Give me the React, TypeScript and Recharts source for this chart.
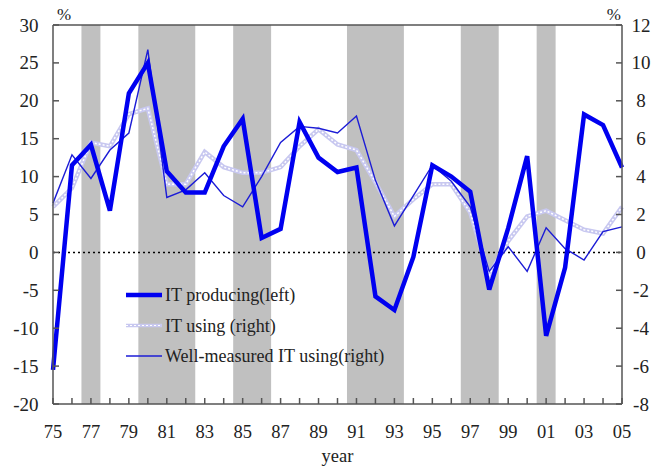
import React from 'react';
import { LineChart, Line, XAxis, YAxis, ReferenceArea, ReferenceLine, Legend } from 'recharts';

const years = [
  1975, 1976, 1977, 1978, 1979, 1980, 1981, 1982, 1983, 1984, 1985, 1986, 1987, 1988, 1989, 1990,
  1991, 1992, 1993, 1994, 1995, 1996, 1997, 1998, 1999, 2000, 2001, 2002, 2003, 2004, 2005,
];

// left axis (%)
const itProducing = [
  -15.5, 11.5, 14.2, 5.5, 21, 25, 10.7, 7.9, 7.9, 14, 17.6, 1.9, 3.1, 17.2, 12.5, 10.6,
  11.2, -5.8, -7.6, -0.6, 11.5, 10, 8, -4.9, 3.2, 12.7, -11, -2, 18.2, 16.8, 11.2,
];

// right axis (%)
const itUsing = [
  2.4, 3.4, 5.8, 5.6, 7.3, 7.6, 3.6, 3.6, 5.3, 4.5, 4.2, 4.2, 4.5, 5.6, 6.5, 5.7,
  5.4, 3.7, 1.9, 2.8, 3.6, 3.6, 2.1, -1.2, 0.6, 1.9, 2.2, 1.7, 1.2, 1.0, 2.4,
];

// right axis (%)
const wellMeasured = [
  2.6, 5.15, 3.9, 5.4, 6.3, 10.7, 2.9, 3.3, 4.2, 3.0, 2.4, 4.0, 5.8, 6.65, 6.55, 6.3,
  7.2, 3.8, 1.4, 3.0, 4.6, 3.75, 2.4, -1.0, 0.3, -1.0, 1.3, 0.2, -0.4, 1.1, 1.35,
];

const shadedPeriods: [number, number][] = [
  [1976.5, 1977.5],
  [1979.5, 1982.5],
  [1984.5, 1986.5],
  [1990.5, 1993.5],
  [1996.5, 1998.5],
  [2000.5, 2001.5],
];

const leftTicks = [-20, -15, -10, -5, 0, 5, 10, 15, 20, 25, 30];
const rightTicks = [-8, -6, -4, -2, 0, 2, 4, 6, 8, 10, 12];
const legendLabels = ['IT producing(left)', 'IT using (right)', 'Well-measured IT using(right)'];

const data = years.map((year, i) => ({
  year,
  producing: itProducing[i],
  using: itUsing[i],
  wellMeasured: wellMeasured[i],
}));

const FONT = '"Liberation Serif", "Times New Roman", serif';
const AXIS = '#555';
const TEXT = '#222';
const USING = '#c8c8f0';

const XTick = ({ x, y, payload }: any) => {
  const yr = payload.value as number;
  return (
    <g>
      <line x1={x} y1={y} x2={x} y2={y - 6} stroke={AXIS} strokeWidth={1.5} />
      {yr % 2 === 1 && (
        <text x={x} y={y + 34} textAnchor="middle" fontSize={18.5} fontFamily={FONT} fill={TEXT}>
          {String(yr).slice(2)}
        </text>
      )}
    </g>
  );
};

const LeftTick = ({ x, y, payload }: any) => (
  <g>
    <line x1={x} y1={y} x2={x + 6} y2={y} stroke={AXIS} strokeWidth={1.5} />
    <text x={x - 14.5} y={y + 6.5} textAnchor="end" fontSize={19} fontFamily={FONT} fill={TEXT}>
      {payload.value}
    </text>
  </g>
);

const RightTick = ({ x, y, payload }: any) => (
  <g>
    <line x1={x} y1={y} x2={x - 6} y2={y} stroke={AXIS} strokeWidth={1.5} />
    <text x={x + 19} y={y + 6.5} textAnchor="middle" fontSize={19} fontFamily={FONT} fill={TEXT}>
      {payload.value}
    </text>
  </g>
);

const LegendBox = () => (
  <svg width={290} height={96}>
    {legendLabels.map((label, i) => {
      const cy = 15 + i * 30.5;
      return (
        <g key={label}>
          {i === 0 && <line x1={6} y1={cy} x2={42} y2={cy} stroke="#0000f0" strokeWidth={4.5} />}
          {i === 1 && (
            <>
              <line x1={6} y1={cy} x2={42} y2={cy} stroke={USING} strokeWidth={3.5} />
              <line x1={6} y1={cy} x2={42} y2={cy} stroke="#fff" strokeWidth={1.2} strokeDasharray="2 2" />
            </>
          )}
          {i === 2 && <line x1={6} y1={cy} x2={42} y2={cy} stroke="#1c1cd6" strokeWidth={1.4} />}
          <text x={45} y={cy + 6} fontSize={18} fontFamily={FONT} fill={TEXT}>
            {label}
          </text>
        </g>
      );
    })}
  </svg>
);

export default function App() {
  return (
    <div style={{ position: 'absolute', left: 0, top: 0, background: '#fff' }}>
      <LineChart width={667} height={468} data={data} margin={{ top: 25, right: 0, bottom: 0, left: 0 }}>
        <XAxis
          dataKey="year"
          type="number"
          domain={[1975, 2005]}
          ticks={years}
          interval={0}
          height={64}
          tickSize={0}
          tickMargin={0}
          tickLine={false}
          tick={<XTick />}
          axisLine={{ stroke: AXIS, strokeWidth: 1.5 }}
          label={{ value: 'year', position: 'insideBottom', offset: 6, fontSize: 18.5, fontFamily: FONT, fill: TEXT }}
        />
        <YAxis
          yAxisId="left"
          domain={[-20, 30]}
          ticks={leftTicks}
          interval={0}
          width={53}
          tickSize={0}
          tickMargin={0}
          tickLine={false}
          tick={<LeftTick />}
          axisLine={{ stroke: AXIS, strokeWidth: 1.5 }}
          label={{
            content: ({ viewBox }: any) => (
              <text x={viewBox.x + viewBox.width + 4} y={viewBox.y - 5} fontSize={17} fontFamily={FONT} fill={TEXT}>
                %
              </text>
            ),
          }}
        />
        <YAxis
          yAxisId="right"
          orientation="right"
          domain={[-8, 12]}
          ticks={rightTicks}
          interval={0}
          width={45}
          tickSize={0}
          tickMargin={0}
          tickLine={false}
          tick={<RightTick />}
          axisLine={{ stroke: AXIS, strokeWidth: 1.5 }}
          label={{
            content: ({ viewBox }: any) => (
              <text x={viewBox.x - 1} y={viewBox.y - 5} textAnchor="end" fontSize={17} fontFamily={FONT} fill={TEXT}>
                %
              </text>
            ),
          }}
        />
        <ReferenceLine yAxisId="left" y={30} stroke={AXIS} strokeWidth={1.5} />
        {shadedPeriods.map(([a, b]) => (
          <ReferenceArea key={a} yAxisId="left" x1={a} x2={b} y1={-20} y2={30} fill="#c0c0c0" fillOpacity={1} stroke="none" />
        ))}
        <ReferenceLine yAxisId="left" y={0} stroke="#000" strokeWidth={1.5} strokeDasharray="2 3" />
        <Line yAxisId="right" type="linear" dataKey="using" stroke={USING} strokeWidth={4.5} dot={false} isAnimationActive={false} />
        <Line yAxisId="right" type="linear" dataKey="using" stroke="#ffffff" strokeWidth={1.5} strokeDasharray="2 2" dot={false} isAnimationActive={false} legendType="none" />
        <Line yAxisId="right" type="linear" dataKey="wellMeasured" stroke="#1c1cd6" strokeWidth={1.4} dot={false} isAnimationActive={false} />
        <Line yAxisId="left" type="linear" dataKey="producing" stroke="#0000f0" strokeWidth={4.5} dot={false} isAnimationActive={false} />
        <Legend
          layout="vertical"
          align="center"
          verticalAlign="middle"
          content={<LegendBox />}
          wrapperStyle={{ left: 120, top: 280, width: 290, height: 96 }}
        />
      </LineChart>
    </div>
  );
}
